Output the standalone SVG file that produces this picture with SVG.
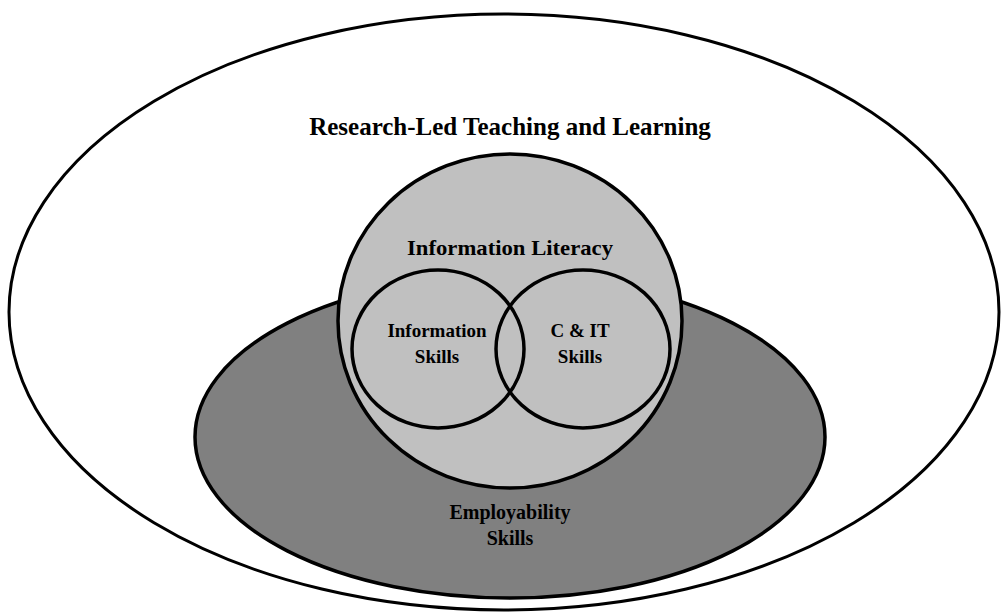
<svg xmlns="http://www.w3.org/2000/svg" width="1001" height="613" viewBox="0 0 1001 613">
  <style>
    .ring { stroke: #000; stroke-width: 3.5; }
    .outer { fill: #fff; stroke: #000; stroke-width: 3; }
    .label { font-family: "Liberation Serif", "Times New Roman", serif; font-weight: bold; fill: #000; text-anchor: middle; }
  </style>
  <rect width="1001" height="613" fill="#fff"/>

  <g id="research-led">
    <ellipse class="outer" cx="504" cy="312" rx="495" ry="298"/>
    <text class="label" x="510" y="135" font-size="25">Research-Led Teaching and Learning</text>
  </g>

  <g id="employability">
    <ellipse class="ring" cx="510" cy="437" rx="315" ry="161" fill="#808080"/>
    <text class="label" x="510" y="519" font-size="20">Employability</text>
    <text class="label" x="510" y="545" font-size="20">Skills</text>
  </g>

  <g id="information-literacy">
    <ellipse class="ring" cx="510" cy="321" rx="172" ry="167" fill="#c0c0c0"/>
    <text class="label" x="510" y="255" font-size="22" textLength="206" lengthAdjust="spacingAndGlyphs">Information Literacy</text>
  </g>

  <g id="information-skills">
    <ellipse class="ring" cx="438" cy="349" rx="86" ry="79" fill="none"/>
    <text class="label" x="437" y="337" font-size="19">Information</text>
    <text class="label" x="437" y="363" font-size="19">Skills</text>
  </g>

  <g id="cit-skills">
    <ellipse class="ring" cx="583" cy="349" rx="87" ry="79" fill="none"/>
    <text class="label" x="580" y="337" font-size="19">C &amp; IT</text>
    <text class="label" x="580" y="363" font-size="19">Skills</text>
  </g>

  <g id="connectors"/>
</svg>
